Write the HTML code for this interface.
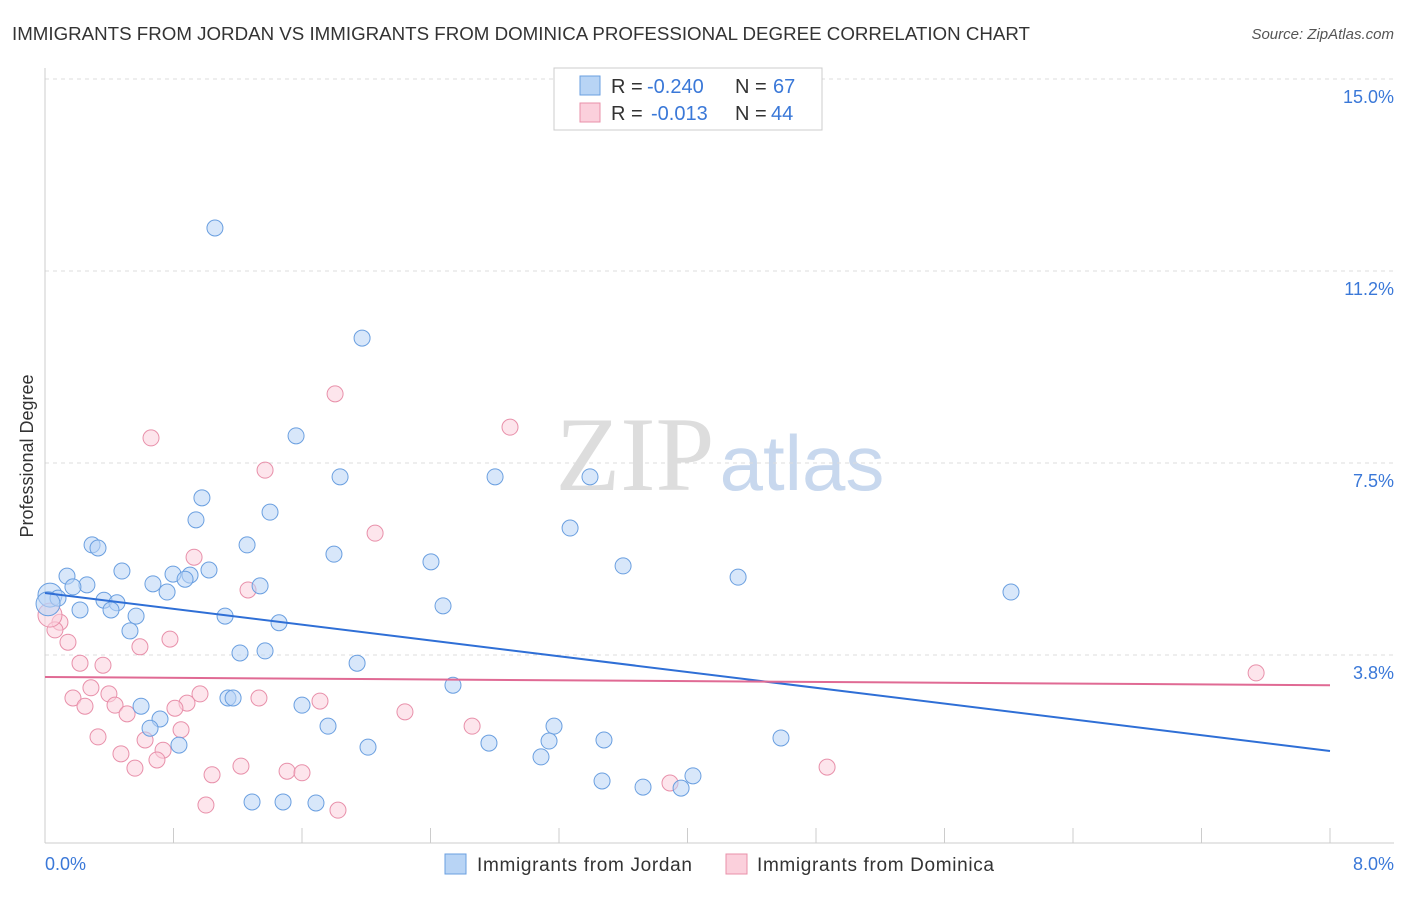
<!DOCTYPE html>
<html><head><meta charset="utf-8">
<style>
html,body{margin:0;padding:0;background:#fff;}
body{width:1406px;height:892px;overflow:hidden;font-family:"Liberation Sans",sans-serif;}
</style></head>
<body>
<svg id="chart" width="1406" height="892" xmlns="http://www.w3.org/2000/svg" font-family="Liberation Sans, sans-serif">
<text x="12" y="40" font-size="18" fill="#333" textLength="1018" lengthAdjust="spacingAndGlyphs">IMMIGRANTS FROM JORDAN VS IMMIGRANTS FROM DOMINICA PROFESSIONAL DEGREE CORRELATION CHART</text>
<text x="1394" y="39" font-size="15" fill="#555" text-anchor="end" font-style="italic">Source: ZipAtlas.com</text>
<g>
<text x="635" y="490" font-size="106" fill="#ddd" font-family="Liberation Serif, serif" text-anchor="middle">ZIP</text>
<text x="802" y="490" font-size="78" fill="#c8d8ee" text-anchor="middle">atlas</text>
</g>
<g id="grid"></g>
<g id="axes"></g>
<text transform="translate(33,456) rotate(-90)" font-size="18" fill="#333" text-anchor="middle">Professional Degree</text>
<g id="pts"></g>
<g id="trends"></g>
<g>
<rect x="554" y="68" width="268" height="62" fill="#fff" stroke="#ccc"/>
<rect x="580" y="76" width="20" height="19" fill="#b8d4f5" stroke="#6a9fe0"/>
<rect x="580" y="103" width="20" height="19" fill="#fbd0dc" stroke="#e890aa"/>
<text x="611" y="93" font-size="20" fill="#333">R =</text>
<text x="647" y="93" font-size="20" fill="#3a78d8">-0.240</text>
<text x="735" y="93" font-size="20" fill="#333">N =</text>
<text x="773" y="93" font-size="20" fill="#3a78d8">67</text>
<text x="611" y="120" font-size="20" fill="#333">R =</text>
<text x="651" y="120" font-size="20" fill="#3a78d8">-0.013</text>
<text x="735" y="120" font-size="20" fill="#333">N =</text>
<text x="771" y="120" font-size="20" fill="#3a78d8">44</text>
</g>
<g>
<rect x="445" y="854" width="21" height="20" fill="#b8d4f5" stroke="#6a9fe0"/>
<text x="477" y="871" font-size="19" fill="#333" textLength="215">Immigrants from Jordan</text>
<rect x="726" y="854" width="21" height="20" fill="#fbd0dc" stroke="#e890aa"/>
<text x="757" y="871" font-size="19" fill="#333" textLength="237">Immigrants from Dominica</text>
</g>
</svg>
<script>
const yTicks=[3.75,7.5,11.25,15];
const yTickLabels=["3.8%","7.5%","11.2%","15.0%"];
const xTickLabels=["0.0%","8.0%"];
const jordanX=[1.058,1.974,1.563,1.837,2.802,3.393,0.977,1.401,0.940,3.269,0.293,0.330,1.258,1.799,2.403,3.599,0.479,1.021,0.797,0.903,0.137,0.872,4.315,0.672,0.261,1.339,0.174,0.760,6.014,0.031,0.081,0.367,0.448,0.019,2.478,0.218,0.411,0.567,1.121,1.457,0.529,1.214,1.370,1.943,2.540,1.139,1.171,0.598,1.600,0.716,1.762,3.169,0.654,0.834,2.764,2.011,3.138,3.480,4.582,3.088,4.034,3.468,3.723,3.960,1.289,1.482,1.687];
const jordanY=[12.09,9.94,8.03,7.23,7.23,7.23,6.82,6.54,6.39,6.23,5.90,5.84,5.90,5.72,5.57,5.49,5.39,5.41,5.33,5.31,5.29,5.23,5.27,5.14,5.12,5.10,5.08,4.98,4.98,4.92,4.86,4.82,4.77,4.75,4.71,4.63,4.63,4.51,4.51,4.38,4.22,3.79,3.83,3.59,3.16,2.91,2.91,2.75,2.77,2.50,2.36,2.36,2.32,1.99,2.03,1.95,2.07,2.09,2.13,1.76,1.39,1.29,1.17,1.15,0.88,0.88,0.86];
const dominicaX=[1.806,0.660,2.895,1.370,2.055,0.928,1.264,0.093,0.062,0.143,0.778,0.591,0.218,0.361,7.540,0.286,0.174,0.398,1.712,0.965,1.332,0.249,0.436,0.884,0.809,0.511,2.241,2.659,0.847,0.330,0.623,0.735,0.473,0.697,0.560,1.220,1.507,1.600,1.040,4.869,3.891,1.002,1.824,0.031];
const dominicaY=[8.85,7.99,8.20,7.36,6.13,5.66,5.02,4.39,4.24,4.00,4.06,3.91,3.59,3.55,3.40,3.11,2.91,2.99,2.85,2.99,2.91,2.75,2.77,2.81,2.71,2.60,2.64,2.36,2.29,2.15,2.09,1.89,1.82,1.70,1.54,1.58,1.48,1.45,1.41,1.56,1.25,0.82,0.72,4.53];
const jordanTrend=[4.96,1.875];
const dominicaTrend=[3.32,3.16];
const NS="http://www.w3.org/2000/svg";
const X0=45,X1=1330,XMAX=8,Y0=847,PPU=51.2;
const sx=v=>X0+v/XMAX*(X1-X0);
const sy=v=>Y0-v*PPU;
function mk(tag,attrs,parent){const e=document.createElementNS(NS,tag);for(const k in attrs)e.setAttribute(k,attrs[k]);parent.appendChild(e);return e;}
const grid=document.getElementById('grid'),axes=document.getElementById('axes');
yTicks.forEach((t,i)=>{
 const l=mk('line',{x1:X0,x2:1394,y1:sy(t),y2:sy(t),stroke:'#ddd','stroke-dasharray':'4,4'},grid);
 
 
 const tx=mk('text',{x:1394,y:sy(t)+24,'font-size':18,fill:'#3a78d8','text-anchor':'end'},axes);
 tx.textContent=yTickLabels[i];
 
 
});
const ax=mk('line',{x1:X0,x2:1394,y1:843,y2:843,stroke:'#ccc'},axes);


const ay=mk('line',{x1:X0,x2:X0,y1:68,y2:843,stroke:'#ccc'},axes);


for(let i=1;i<=10;i++){const x=sx(i*0.8);const t=mk('line',{x1:x,x2:x,y1:828,y2:843,stroke:'#ccc'},axes);
 
 }
[[0,'start',45],[8,'end',1394]].forEach((d,i)=>{const t=mk('text',{x:d[2],y:870,'font-size':18,fill:'#3a78d8','text-anchor':d[1]},axes);t.textContent=xTickLabels[i];
 
 });
const pts=document.getElementById('pts');
function drawSeries(xs,ys,fill,stroke,name){
 xs.forEach((v,i)=>{const big=v<0.05;
  const c=mk('circle',{cx:sx(v),cy:sy(ys[i]),r:big?12:8,fill:fill,'fill-opacity':0.55,stroke:stroke,'stroke-width':1},pts);
  
  });
}
drawSeries(dominicaX,dominicaY,'#fbd0dc','#e890aa','dominica-point');
drawSeries(jordanX,jordanY,'#b8d4f5','#6a9fe0','jordan-point');
const tr=document.getElementById('trends');
const l1=mk('line',{x1:sx(0),x2:sx(8),y1:sy(jordanTrend[0]),y2:sy(jordanTrend[1]),stroke:'#2f6fd6','stroke-width':2},tr);


const l2=mk('line',{x1:sx(0),x2:sx(8),y1:sy(dominicaTrend[0]),y2:sy(dominicaTrend[1]),stroke:'#e06a94','stroke-width':2},tr);


</script>
</body></html>
